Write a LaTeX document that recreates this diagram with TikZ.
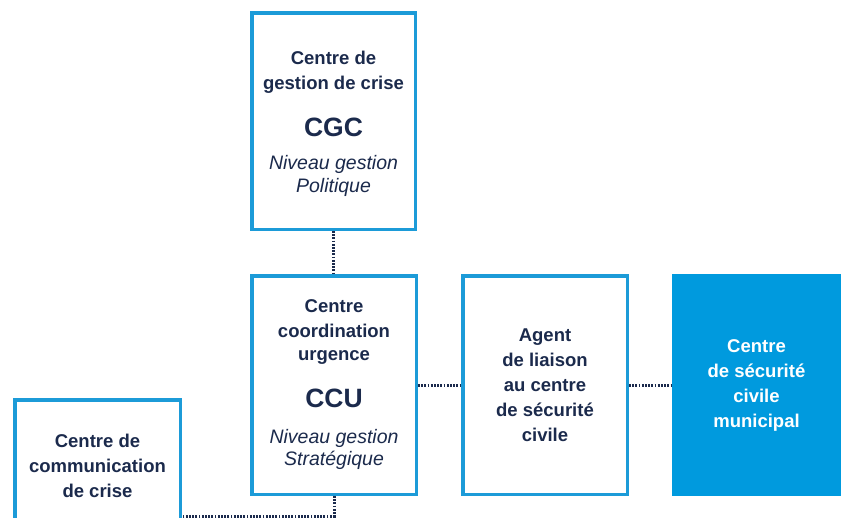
\documentclass[tikz,border=0pt]{standalone}
\usepackage{fontspec}
\setmainfont{Liberation Sans}
\definecolor{boxblue}{HTML}{1C9BD8}
\definecolor{fillblue}{HTML}{009ADE}
\definecolor{navy}{HTML}{1B2A4C}
\newcommand{\bigabbr}[1]{{\fontsize{26.5}{25}\selectfont #1}}
\newcommand{\levelit}[1]{{\mdseries\itshape\fontsize{19.5}{23}\selectfont #1}}
\begin{document}
\begin{tikzpicture}[x=1pt,y=-1pt,
  box/.style={draw=boxblue, line width=3.5pt, rectangle, align=center, text=navy,
    font=\fontsize{18.5}{25}\selectfont\bfseries, inner sep=0pt},
  filledbox/.style={box, fill=fillblue, draw=fillblue, text=white},
  link/.style={draw=navy, line width=3pt, dash pattern=on 1.8pt off 1.4pt}]
\useasboundingbox (0,0) rectangle (850,517);
\fill[white] (0,0) rectangle (850,517);
\clip (0,0) rectangle (850,517);

\node[box, minimum width=163.5pt, minimum height=216.5pt] (cgc) at (333.5,121)
  {\mbox{}\\[-6pt]Centre de\\gestion de crise\\[22pt]\bigabbr{CGC}\\[8pt]\levelit{Niveau gestion}\\[-2pt]\levelit{Politique}};

\node[box, minimum width=164.5pt, minimum height=218.5pt] (ccu) at (334,385)
  {Centre\\coordination\\[-2pt]urgence\\[22pt]\bigabbr{CCU}\\[11pt]\levelit{Niveau gestion}\\[-3pt]\levelit{Strat\'egique}};

\node[box, minimum width=164.5pt, minimum height=218.5pt] (agent) at (545,385)
  {Agent\\de liaison\\au centre\\de s\'ecurit\'e\\civile};

\node[filledbox, minimum width=165.5pt, minimum height=218.5pt] (mun) at (756.5,385)
  {Centre\\de s\'ecurit\'e\\civile\\municipal};

\node[box, minimum width=165.5pt, minimum height=132.5pt] (comm) at (97.5,466)
  {Centre de\\communication\\de crise};

\draw[link] (cgc.south) -- (cgc.south |- ccu.north);
\draw[link] (ccu.east) -- (agent.west);
\draw[link] (agent.east) -- (mun.west);
\path (ccu.south) ++(0,20) coordinate (j);
\draw[link] (ccu.south) -- (j) -- (comm.east |- j);
\end{tikzpicture}
\end{document}
